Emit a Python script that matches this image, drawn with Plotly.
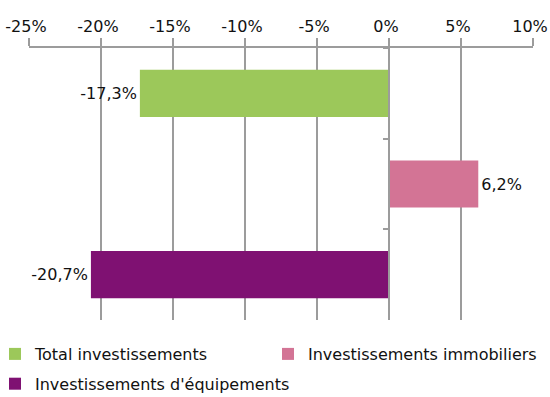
import plotly.graph_objects as go

# Categories (top to bottom) and year-on-year change in %
categories = ["Total investissements", "Investissements immobiliers", "Investissements d'équipements"]
values = [-17.3, 6.2, -20.7]
colors = ["#9CC85A", "#D37495", "#7F1172"]
legend_ids = ["legend", "legend2", "legend"]

x_ticks = [-25, -20, -15, -10, -5, 0, 5, 10]

FONT = "DejaVu Sans"
FS = 16
GRID = "#9c9c9c"


def fmt(v):
    return f"{v:.1f}".replace(".", ",") + "%"


fig = go.Figure()
for cat, val, col, lg in zip(categories, values, colors, legend_ids):
    fig.add_trace(go.Bar(
        x=[val], y=[cat], orientation="h", name=cat,
        legend=lg, legendgroup=cat,
        marker=dict(color=col, line=dict(width=0)),
        text=[fmt(val)], textposition="outside", cliponaxis=False,
        textfont=dict(family=FONT, size=FS, color="#111111"),
        hoverinfo="skip",
    ))

legend_common = dict(
    orientation="v", yanchor="top", xanchor="left",
    font=dict(family=FONT, size=FS, color="#111111"),
    traceorder="grouped", itemclick=False, itemdoubleclick=False,
    bgcolor="rgba(0,0,0,0)", tracegroupgap=6,
)

fig.update_layout(
    width=550, height=397,
    margin=dict(l=29, r=17, t=48, b=77, autoexpand=False),
    paper_bgcolor="white", plot_bgcolor="white",
    barmode="overlay", bargap=0.48,
    font=dict(family=FONT, size=FS, color="#111111"),
    showlegend=True,
    legend=dict(x=-5 / 504 - 29 / 504, y=-17 / 272, **legend_common),
    legend2=dict(x=(268 - 29) / 504, y=-17 / 272, **legend_common),
    xaxis=dict(
        side="top", range=[-25, 10], tickvals=x_ticks,
        ticktext=[f"{t}%" for t in x_ticks],
        showline=True, linecolor=GRID, linewidth=1.5,
        ticks="outside", ticklen=8, tickcolor=GRID, tickwidth=1.5,
        showgrid=True, gridcolor=GRID, gridwidth=1.5, zeroline=False,
        tickfont=dict(family=FONT, size=FS, color="#111111"),
        ticklabelstandoff=0, ticklabelshift=-3, ticklabeloverflow="allow",
        automargin=False,
    ),
    yaxis=dict(
        type="category", categoryorder="array", categoryarray=categories,
        autorange="reversed", showticklabels=False,
        anchor="free", position=25 / 35,
        showline=True, linecolor=GRID, linewidth=1.5,
        ticks="outside", tickson="boundaries", ticklen=5,
        tickcolor=GRID, tickwidth=1.5,
        showgrid=False, zeroline=False, automargin=False,
    ),
)

fig.write_html("out.html")
